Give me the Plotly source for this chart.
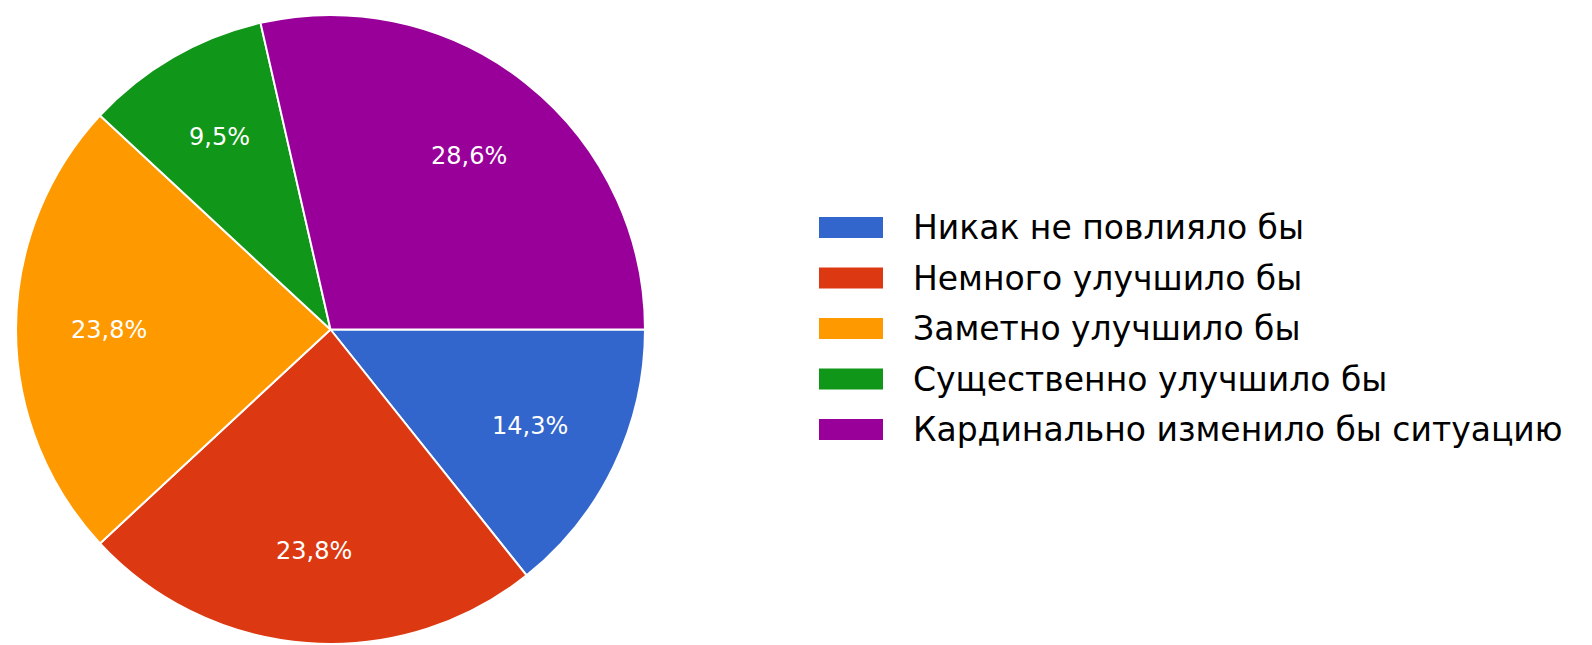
import math
import plotly.graph_objects as go

labels = ["Никак не повлияло бы", "Немного улучшило бы", "Заметно улучшило бы",
          "Существенно улучшило бы", "Кардинально изменило бы ситуацию"]
counts = [3, 5, 5, 2, 6]
colors = ["#3366cc", "#dc3912", "#ff9900", "#109618", "#990099"]

W, H = 1592, 645
FONT = "DejaVu Sans"

# pie geometry (pixels)
PX0, PX1, PY0, PY1 = 8, 637, 7, 636
cx, cy = (PX0 + PX1) / 2, (PY0 + PY1) / 2
R = min(PX1 - PX0, PY1 - PY0) / 2

fig = go.Figure(go.Pie(
    labels=labels, values=counts, sort=False, direction="clockwise", rotation=90,
    marker=dict(colors=colors, line=dict(color="white", width=2)),
    textinfo="none",
    domain=dict(x=[PX0 / W, PX1 / W], y=[1 - PY1 / H, 1 - PY0 / H]),
    showlegend=False, hoverinfo="label+percent",
))

# percentage labels on the slice bisectors at 0.7 R (Google Charts style)
total = sum(counts)
cum = 0
for c in counts:
    mid = (cum + c / 2) / total * 2 * math.pi  # clockwise from 3 o'clock
    cum += c
    px = cx + 0.705 * R * math.cos(mid)
    py = cy + 0.705 * R * math.sin(mid)
    pct = f"{100 * c / total:.1f}".replace(".", ",") + "%"
    fig.add_annotation(xref="paper", yref="paper", x=px / W, y=1 - py / H,
                       xanchor="center", yanchor="middle", text=pct, showarrow=False,
                       font=dict(family=FONT, size=24, color="white"))

# custom legend (wide swatches as in the reference)
x0, x1, tx = 811, 875, 903
top, step, sh = 219.5, 50.5, 21
for i, (lab, col) in enumerate(zip(labels, colors)):
    yc = top + i * step
    fig.add_shape(type="rect", xref="paper", yref="paper",
                  x0=x0 / W, x1=x1 / W, y0=1 - (yc - sh / 2) / H, y1=1 - (yc + sh / 2) / H,
                  fillcolor=col, line=dict(width=0))
    fig.add_annotation(xref="paper", yref="paper", x=tx / W, y=1 - yc / H,
                       xanchor="left", yanchor="middle", text=lab, showarrow=False,
                       font=dict(family=FONT, size=33, color="#000000"))

fig.update_layout(width=W, height=H, margin=dict(l=0, r=0, t=0, b=0),
                  paper_bgcolor="white", plot_bgcolor="white", separators=", ")
fig.write_html("out.html")
